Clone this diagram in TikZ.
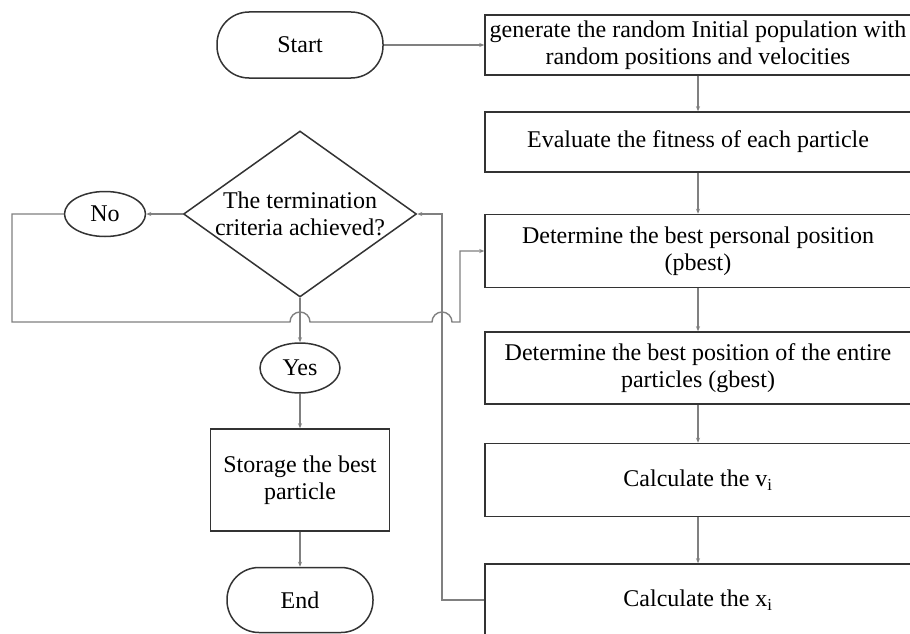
\documentclass[tikz,border=0pt]{standalone}
\usepackage{fontspec}
\setmainfont{Liberation Serif}
\usetikzlibrary{shapes.geometric,arrows.meta}
\begin{document}
\begin{tikzpicture}[x=1pt,y=-1pt,
  font=\fontsize{24}{26.5}\selectfont,
  frame/.style={draw=black!80, line width=1.5pt, fill=white},
  stepbox/.style={frame, rectangle, minimum width=426pt, align=center, inner sep=0pt},
  terminal/.style={frame, rectangle, rounded corners=32pt, minimum height=66pt, inner sep=0pt},
  answer/.style={frame, ellipse, inner sep=0pt},
  decision/.style={frame, diamond, aspect=1.4, inner sep=0pt, minimum width=233pt, minimum height=166pt, align=center},
  wire/.style={draw=black!50, line width=1.4pt},
  flow/.style={wire, -{Stealth[length=5pt,width=4pt]}},
]
\useasboundingbox (0,0) rectangle (910,634);
\clip (0,0) rectangle (910,634);

% main column of process steps
\node[terminal, minimum width=166pt] (start) at (300,45) {Start};
\node[stepbox, minimum height=60pt] (b1) at (698,45) {generate the random Initial population with\\random positions and velocities};
\node[stepbox, minimum height=60pt] (b2) at (698,142) {Evaluate the fitness of each particle};
\node[stepbox, minimum height=73pt] (b3) at (698,251) {Determine the best personal position\\(pbest)};
\node[stepbox, minimum height=72pt] (b4) at (698,368) {Determine the best position of the entire\\particles (gbest)};
\node[stepbox, minimum height=73pt] (b5) at (698,480) {Calculate the v\textsubscript{i}};
\node[stepbox, minimum height=72pt] (b6) at (698,600) {Calculate the x\textsubscript{i}};

% decision branch
\node[decision] (dia) at (300,214) {The termination\\criteria achieved?};
\node[answer, minimum width=81pt, minimum height=45pt] (no) at (105,214) {No};
\node[answer, minimum width=80pt, minimum height=50pt] (yes) at (300,368) {Yes};
\node[frame, rectangle, minimum width=179pt, minimum height=102pt, align=center, inner sep=0pt] (store) at (300,480) {Storage the best\\particle};
\node[terminal, minimum width=146pt, minimum height=65pt] (end) at (300,600) {End};

% connectors
\draw[flow] (start.east) -- (b1.west);
\draw[flow] (b1.south) -- (b2.north);
\draw[flow] (b2.south) -- (b3.north);
\draw[flow] (b3.south) -- (b4.north);
\draw[flow] (b4.south) -- (b5.north);
\draw[flow] (b5.south) -- (b6.north);
\draw[flow] (dia.west) -- (no.east);
\draw[flow] (dia.south) -- (yes.north);
\draw[flow] (yes.south) -- (store.north);
\draw[flow] (store.south) -- (end.north);
\coordinate (ret) at (442,600);
\draw[flow] (b6.west) -- (ret) |- (dia.east);
\coordinate (nl) at (12,214);
\coordinate (nb) at (12,322);
\coordinate (up) at (460,322);
\draw[flow] (no.west) -- (nl) -- (nb) -- (290,322)
  arc[start angle=180, end angle=0, radius=10pt] -- (432,322)
  arc[start angle=180, end angle=0, radius=10pt] -- (up) |- (b3.west);
\end{tikzpicture}
\end{document}
